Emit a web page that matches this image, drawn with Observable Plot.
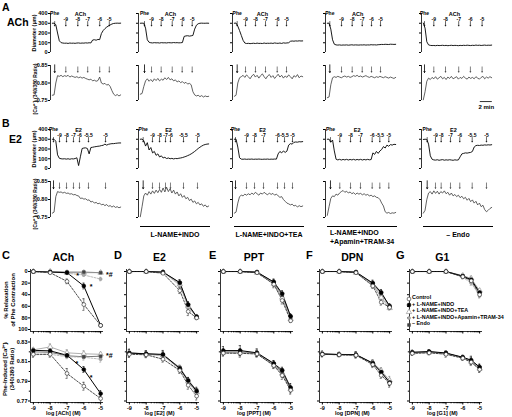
<!DOCTYPE html>
<html><head><meta charset="utf-8">
<script src="https://cdn.jsdelivr.net/npm/d3@7"></script>
<script src="https://cdn.jsdelivr.net/npm/@observablehq/plot@0.6"></script>
<style>
html,body{margin:0;padding:0;background:#fff;}
#root{position:relative;width:512px;height:417px;overflow:hidden;font-family:"Liberation Sans",Arial,Helvetica,sans-serif;font-weight:bold;color:#000;}
#root svg{position:absolute;overflow:visible;}
.lbl{position:absolute;white-space:nowrap;line-height:1;font-weight:bold;color:#000;}
</style></head><body><div id="root"></div>
<script>
// ---------------- DATA ----------------
const achDoseLabels = ["-9","-8","-7","-6","-5"];
const e2DoseLabels = ["-9","-8","-7","-6","-5.5","-5"];
const traceAgents = ["ACh","E2"];
// times (min) of additions for each column
const pheTimesA = [0.4,0.7,0.48,0.42,0.2];
const achTimes = [[2.25,4.25,5.9,7.9,9.5],[1.87,3.48,5.32,6.98,8.65],[1.87,3.53,5.2,7.15,8.7],[2.37,4.15,5.82,7.37,8.87],[1.75,3.7,5.9,7.85,9.8]];
const achLabelTimes = [4.7,5.03,4.7,5.08,5.2];
const pheTimesB = [0.2,0.48,0.2,0.53,0.65];
const e2Times = [[1.2,2.37,3.53,4.53,6.03,8.87],[2.03,3.2,4.2,5.03,7.2,9.53],[2.03,3.37,4.87,7.2,8.37,9.7],[2.08,3.87,5.53,7.48,8.75,10.25],[2.03,2.98,4.53,6.08,8.15,10.53]];
const e2LabelTimes = [4.37,4.7,4.7,4.98,5.03];
const conditionLabels = ["", "L-NAME+INDO", "L-NAME+INDO+TEA", "L-NAME+INDO\n+Apamin+TRAM-34", "– Endo"];

// A: ACh traces (diameter µm, [Ca2+]i ratio)
const A1d = [300,301,285,200,120,101,97,95,96,93,97,95,96,94,97,98,95,97,96,99,97,100,98,128,131,126,134,132,195,225,245,260,272,283,292,298,300,301,300,301];
const A1c = [0.765,0.766,0.80,0.821,0.819,0.822,0.818,0.821,0.819,0.822,0.817,0.82,0.818,0.816,0.818,0.815,0.817,0.814,0.816,0.813,0.811,0.809,0.811,0.806,0.808,0.805,0.807,0.817,0.80,0.797,0.799,0.794,0.796,0.79,0.778,0.768,0.764,0.767,0.763,0.766];
const A2d = [300,301,300,250,130,105,100,98,101,99,100,97,101,99,100,98,101,100,99,102,100,101,99,100,102,165,170,172,168,171,175,240,280,295,300,301,300,300,301,300];
const A2c = [0.768,0.77,0.79,0.806,0.812,0.805,0.81,0.804,0.812,0.807,0.813,0.806,0.811,0.808,0.815,0.81,0.816,0.809,0.812,0.806,0.809,0.803,0.806,0.801,0.804,0.799,0.802,0.797,0.799,0.795,0.775,0.766,0.763,0.765,0.761,0.764,0.76,0.763,0.761,0.762];
const A3d = [300,302,270,225,175,125,97,92,94,91,93,95,92,96,93,94,92,97,93,95,94,96,93,98,95,94,97,93,99,96,98,100,115,118,116,119,117,120,118,119];
const A3c = [0.762,0.765,0.8,0.815,0.818,0.822,0.816,0.823,0.818,0.812,0.82,0.825,0.817,0.822,0.814,0.821,0.826,0.818,0.812,0.82,0.824,0.816,0.821,0.813,0.819,0.825,0.817,0.822,0.814,0.82,0.816,0.823,0.818,0.812,0.821,0.817,0.824,0.815,0.82,0.818];
const A4d = [300,301,240,130,85,78,76,78,75,77,76,78,75,77,79,76,78,77,76,78,77,79,76,78,77,80,78,79,77,80,81,83,82,84,83,82,85,84,83,84];
const A4c = [0.758,0.76,0.795,0.815,0.818,0.816,0.819,0.817,0.815,0.818,0.82,0.817,0.819,0.816,0.818,0.821,0.819,0.822,0.818,0.82,0.817,0.819,0.821,0.818,0.816,0.819,0.817,0.815,0.818,0.816,0.819,0.817,0.815,0.818,0.816,0.814,0.817,0.815,0.813,0.816];
const A5d = [302,250,110,78,73,71,72,70,73,71,72,74,71,73,70,72,74,71,73,72,70,73,71,74,72,75,73,71,74,72,76,73,75,72,74,76,73,75,74,76];
const A5c = [0.752,0.775,0.805,0.814,0.81,0.816,0.812,0.818,0.811,0.815,0.819,0.812,0.816,0.81,0.817,0.813,0.819,0.812,0.815,0.818,0.811,0.816,0.813,0.819,0.814,0.811,0.817,0.813,0.816,0.812,0.818,0.814,0.811,0.816,0.819,0.812,0.817,0.814,0.818,0.815];
// B: E2 traces
const B1d = [300,300,280,140,105,100,98,100,96,100,95,100,98,102,110,30,120,205,210,212,205,150,215,218,222,225,228,230,235,238,250,240,248,252,255,255,258,260,262,262];
const B1c = [0.762,0.765,0.808,0.822,0.82,0.821,0.818,0.82,0.817,0.818,0.815,0.816,0.813,0.814,0.811,0.81,0.803,0.804,0.801,0.802,0.798,0.799,0.793,0.795,0.79,0.792,0.788,0.79,0.785,0.787,0.783,0.786,0.781,0.783,0.779,0.782,0.778,0.78,0.777,0.779];
const B2d = [300,302,285,230,265,190,215,160,175,135,150,118,130,108,115,102,108,100,104,98,103,101,105,108,112,118,124,132,140,150,162,175,190,205,218,230,240,246,250,252];
const B2c = [0.752,0.78,0.81,0.818,0.812,0.822,0.815,0.824,0.817,0.826,0.819,0.828,0.82,0.832,0.821,0.834,0.822,0.83,0.818,0.826,0.815,0.821,0.81,0.816,0.806,0.811,0.802,0.806,0.797,0.801,0.792,0.796,0.788,0.792,0.785,0.788,0.781,0.785,0.779,0.782];
const B3d = [300,301,220,110,96,95,97,94,96,95,97,94,96,95,97,95,94,96,95,97,94,96,95,97,96,150,175,160,180,165,178,240,255,250,268,272,270,275,273,276];
const B3c = [0.762,0.765,0.79,0.808,0.812,0.81,0.815,0.812,0.816,0.813,0.818,0.814,0.82,0.816,0.812,0.818,0.815,0.82,0.816,0.813,0.818,0.814,0.817,0.812,0.815,0.81,0.806,0.808,0.8,0.795,0.79,0.788,0.785,0.787,0.782,0.784,0.779,0.783,0.78,0.782];
const B4d = [300,301,270,292,180,95,88,94,87,93,88,94,87,93,88,94,87,93,88,94,87,93,88,94,89,92,160,145,175,155,180,195,225,210,240,228,245,240,248,246];
const B4c = [0.756,0.78,0.803,0.81,0.808,0.815,0.812,0.818,0.822,0.825,0.82,0.823,0.818,0.821,0.816,0.819,0.814,0.818,0.815,0.817,0.813,0.816,0.812,0.814,0.81,0.812,0.808,0.81,0.806,0.805,0.8,0.79,0.782,0.766,0.762,0.764,0.761,0.763,0.762,0.764];
const B5d = [298,300,299,250,130,95,88,86,90,84,88,91,85,89,86,90,87,84,89,86,88,120,150,155,160,158,162,165,175,220,235,238,236,240,238,242,240,243,241,244];
const B5c = [0.762,0.77,0.8,0.818,0.822,0.815,0.824,0.817,0.823,0.815,0.822,0.818,0.824,0.816,0.82,0.812,0.818,0.81,0.814,0.808,0.812,0.805,0.809,0.802,0.806,0.798,0.803,0.794,0.799,0.79,0.795,0.785,0.79,0.78,0.784,0.772,0.766,0.77,0.775,0.778];

const diamTicks = [0,100,200,300,400];
const caTicks = [0.75,0.80,0.85];
const scaleBarMinutes = 2;

// C–G: concentration–response
const seriesNames = ["Control","+ L-NAME+INDO","+ L-NAME+INDO+TEA","+ L-NAME+INDO+Apamin+TRAM-34","– Endo"];
const drAgents = ["ACh","E2","PPT","DPN","G1"];
const drLetters = ["C","D","E","F","G"];
const achDoses = [-9,-8,-7,-6,-5];
const estDoses = [-9,-8,-7,-6,-5.5,-5];
const doseTicks = [-9,-8,-7,-6,-5];
const relaxTicks = [0,20,40,60,80,100];
const ratioTicks = [0.77,0.79,0.81,0.83];
const ratioMinor = [0.78,0.80,0.82];

const achRelax = [[0,2,17,57,93],[0,1,2,25,93],[0,0,2,2,2],[0,0,3,6,13],[0,0,1,1,2]];
const achRelaxErr = [[0,1,4,10,2],[0,1,1,5,2],[0,0,1,1,1],[0,0,1,2,3],[0,0,1,1,1]];
const achCa = [[0.8175,0.8175,0.798,0.785,0.7725],[0.8215,0.821,0.8165,0.802,0.7775],[0.822,0.825,0.819,0.818,0.8175],[0.817,0.8175,0.815,0.8145,0.8125],[0.82,0.8195,0.816,0.815,0.8155]];
const achCaErr = [[0.003,0.003,0.005,0.004,0.004],[0.002,0.002,0.002,0.003,0.003],[0.002,0.003,0.003,0.003,0.002],[0.002,0.002,0.002,0.003,0.003],[0.002,0.002,0.002,0.002,0.002]];
const e2Relax = [[0,0,3,33,69,80],[0,0,1,19,57,78],[0,0,1,22,60,79],[0,0,1,24,62,77],[0,0,1,20,58,78]];
const e2RelaxErr = [[0,0,1,5,7,3],[0,0,1,5,5,3],[0,0,1,4,5,3],[0,0,1,4,5,3],[0,0,1,4,5,3]];
const e2Ca = [[0.8175,0.817,0.8125,0.801,0.786,0.775],[0.8187,0.818,0.8174,0.803,0.7907,0.780],[0.819,0.8175,0.8165,0.8035,0.79,0.779],[0.818,0.8175,0.816,0.802,0.789,0.778],[0.819,0.818,0.817,0.804,0.791,0.781]];
const e2CaErr = [[0.003,0.003,0.003,0.003,0.004,0.004],[0.004,0.003,0.004,0.002,0.003,0.003],[0.003,0.003,0.003,0.003,0.003,0.004],[0.002,0.002,0.003,0.003,0.003,0.003],[0.003,0.003,0.003,0.002,0.003,0.003]];
const pptRelax = [[0,0,2,22,50,85],[0,0,1,18,38,77],[0,0,2,21,45,82],[0,0,2,20,47,84],[0,0,1,19,41,79]];
const pptRelaxErr = [[0,0,1,6,6,3],[0,0,1,5,5,4],[0,0,1,5,5,3],[0,0,1,5,5,3],[0,0,1,5,5,3]];
const pptCa = [[0.8187,0.8185,0.8178,0.806,0.796,0.781],[0.8213,0.8213,0.819,0.8082,0.8013,0.7837],[0.8195,0.8195,0.8185,0.807,0.798,0.782],[0.8187,0.8185,0.818,0.806,0.797,0.781],[0.82,0.82,0.8185,0.8075,0.7995,0.7825]];
const pptCaErr = [[0.003,0.004,0.003,0.003,0.004,0.004],[0.004,0.005,0.004,0.003,0.003,0.004],[0.003,0.003,0.003,0.003,0.004,0.003],[0.003,0.003,0.003,0.003,0.003,0.003],[0.003,0.003,0.003,0.003,0.003,0.003]];
const dpnRelax = [[0,0,2,25,53,62],[0,0,1,20,36,60],[0,0,2,23,45,63],[0,0,2,22,42,61],[0,0,1,21,38,59]];
const dpnRelaxErr = [[0,0,1,4,5,4],[0,0,1,5,5,4],[0,0,1,4,5,3],[0,0,1,4,5,3],[0,0,1,4,4,3]];
const dpnCa = [[0.8175,0.817,0.8165,0.807,0.796,0.788],[0.8178,0.8172,0.8172,0.8085,0.7995,0.789],[0.818,0.8175,0.817,0.8088,0.801,0.791],[0.8175,0.817,0.8168,0.808,0.798,0.789],[0.818,0.8172,0.817,0.8082,0.799,0.7885]];
const dpnCaErr = [[0.002,0.002,0.003,0.003,0.003,0.004],[0.003,0.002,0.003,0.003,0.003,0.003],[0.002,0.002,0.002,0.003,0.003,0.004],[0.002,0.002,0.002,0.003,0.003,0.003],[0.002,0.002,0.002,0.003,0.003,0.003]];
const g1Relax = [[0,0,0,9,16,40],[0,0,0,8,14,36],[0,0,0,7,12,33],[0,0,0,10,20,42],[0,0,0,8,15,38]];
const g1RelaxErr = [[0,0,1,3,4,4],[0,0,1,3,4,4],[0,0,1,3,4,3],[0,0,1,3,4,4],[0,0,1,3,3,3]];
const g1Ca = [[0.8185,0.819,0.8175,0.8135,0.8095,0.802],[0.8195,0.8203,0.8188,0.8145,0.8115,0.8045],[0.819,0.8195,0.8185,0.814,0.81,0.803],[0.8185,0.819,0.818,0.8135,0.809,0.8025],[0.8195,0.82,0.8185,0.8142,0.811,0.804]];
const g1CaErr = [[0.002,0.002,0.003,0.002,0.003,0.003],[0.002,0.002,0.002,0.002,0.004,0.003],[0.002,0.002,0.002,0.002,0.003,0.003],[0.002,0.002,0.002,0.002,0.003,0.003],[0.002,0.002,0.002,0.002,0.003,0.003]];
// significance marks (ACh only)
const achRelaxNotes = [{x:-6.45,y:7,t:"*"},{x:-5.65,y:26,t:"*"},{x:-4.68,y:5,t:"*#"}];
const achCaNotes = [{x:-6.5,y:0.8075,t:"*"},{x:-5.65,y:0.7935,t:"*"},{x:-4.68,y:0.8165,t:"*#"}];

// ---------------- DRAWING ----------------
const FONT = '"Liberation Sans", Arial, Helvetica, sans-serif';
const root = document.getElementById("root");
const baseStyle = {fontFamily: FONT, fontWeight: "bold", background: "transparent", overflow: "visible", color: "#000"};

function addSvg(svg, left, top) {
  svg.style.left = left + "px"; svg.style.top = top + "px"; svg.style.overflow = "visible";
  root.appendChild(svg);
}
function addText(text, x, y, size, opt = {}) {
  const d = document.createElement("div");
  d.className = "lbl"; d.textContent = text;
  d.style.left = x + "px"; d.style.top = y + "px"; d.style.fontSize = size + "px";
  const tf = [];
  if (opt.center) tf.push("translate(-50%,-50%)");
  if (opt.rotate) tf.push("rotate(-90deg)");
  if (tf.length) d.style.transform = tf.join(" ");
  root.appendChild(d);
  return d;
}

// trace panels
const TRACE_SPAN = 11.4, TRACE_DOMAIN = [-0.3, 11.7], TRACE_W = 72;
const traceCols = [50, 138, 232, 325, 421];
const toSeries = vals => vals.map((v, i) => ({t: i * TRACE_SPAN / (vals.length - 1), v}));

function diamPanel({left, top, bottom, values, pheT, doseT, doseLabels, agent, agentT, showLabels}) {
  const svg = Plot.plot({
    width: TRACE_W, height: bottom - top, margin: 0,
    x: {domain: TRACE_DOMAIN, axis: null},
    y: {domain: [0, 400], label: null},
    style: baseStyle,
    marks: [
      Plot.ruleX([TRACE_DOMAIN[0]], {stroke: "#000", strokeWidth: 0.8}),
      Plot.axisY({ticks: diamTicks, tickSize: 2, tickPadding: 1, fontSize: 5.5, label: null,
                  tickFormat: showLabels ? (d => String(d)) : (() => "")}),
      Plot.line(toSeries(values), {x: "t", y: "v", stroke: "#000", strokeWidth: 0.9}),
      Plot.text([pheT], {x: d => d, y: () => 406, text: () => "Phe", fontSize: 5, fill: "#000"}),
      Plot.text([agentT], {x: d => d, y: () => 390, text: () => agent, fontSize: 5.5, fill: "#000"}),
      Plot.text(doseT, {x: d => d, y: () => 342, text: (d, i) => doseLabels[i], fontSize: 5, fill: "#000"}),
      Plot.arrow([pheT, ...doseT], {x1: d => d, x2: d => d, y1: () => 318, y2: () => 272,
                  headLength: 2, strokeWidth: 0.6, stroke: "#000"})
    ]
  });
  addSvg(svg, left, top);
}
function caPanel({left, top, bottom, values, pheT, doseT, showLabels, extra = []}) {
  const svg = Plot.plot({
    width: TRACE_W, height: bottom - top, margin: 0,
    x: {domain: TRACE_DOMAIN, axis: null},
    y: {domain: [0.75, 0.85], label: null},
    style: baseStyle,
    marks: [
      Plot.ruleX([TRACE_DOMAIN[0]], {stroke: "#000", strokeWidth: 0.8}),
      Plot.axisY({ticks: caTicks, tickSize: 2, tickPadding: 1, fontSize: 5.5, label: null,
                  tickFormat: showLabels ? d3.format(".2f") : (() => "")}),
      Plot.line(toSeries(values), {x: "t", y: "v", stroke: "#3a3a3a", strokeWidth: 0.8}),
      Plot.arrow([pheT], {x1: d => d, x2: d => d, y1: () => 0.852, y2: () => 0.830, headLength: 2.2, strokeWidth: 0.8, stroke: "#000"}),
      Plot.arrow(doseT, {x1: d => d, x2: d => d, y1: () => 0.846, y2: () => 0.831, headLength: 1.8, strokeWidth: 0.5, stroke: "#000"}),
      ...extra
    ]
  });
  addSvg(svg, left, top);
}

const diamA = [A1d, A2d, A3d, A4d, A5d], caA = [A1c, A2c, A3c, A4c, A5c];
const diamB = [B1d, B2d, B3d, B4d, B5d], caB = [B1c, B2c, B3c, B4c, B5c];
const rowA = {dTop: 13, dBottom: 52, cTop: 65, cBottom: 100};
const rowB = {dTop: 129, dBottom: 168, cTop: 181, cBottom: 217};

traceCols.forEach((x, c) => {
  diamPanel({left: x, top: rowA.dTop, bottom: rowA.dBottom, values: diamA[c], pheT: pheTimesA[c],
             doseT: achTimes[c], doseLabels: achDoseLabels, agent: traceAgents[0], agentT: achLabelTimes[c], showLabels: c === 0});
  const extra = c === 4 ? [
    Plot.ruleY([0.747], {x1: 9.5, x2: 9.5 + scaleBarMinutes, stroke: "#000", strokeWidth: 0.8}),
    Plot.text([scaleBarMinutes], {x: d => 9.5 + d / 2, y: () => 0.732, text: d => `${d} min`, fontSize: 6, fill: "#000"})
  ] : [];
  caPanel({left: x, top: rowA.cTop, bottom: rowA.cBottom, values: caA[c], pheT: pheTimesA[c], doseT: achTimes[c], showLabels: c === 0, extra});
  diamPanel({left: x, top: rowB.dTop, bottom: rowB.dBottom, values: diamB[c], pheT: pheTimesB[c],
             doseT: e2Times[c], doseLabels: e2DoseLabels, agent: traceAgents[1], agentT: e2LabelTimes[c], showLabels: c === 0});
  caPanel({left: x, top: rowB.cTop, bottom: rowB.cBottom, values: caB[c], pheT: pheTimesB[c], doseT: e2Times[c], showLabels: c === 0});
});

// section labels A/B
addText("A", 2, 2, 10.5);
addText("ACh", 7, 17, 10.5);
addText("B", 2, 118, 10.5);
addText("E2", 9, 134, 10.5);
addText("Diameter (μm)", 35, 32.5, 5.5, {center: true, rotate: true});
addText("[Ca²⁺]ᵢ (340/380 Ratio)", 35, 89, 5, {center: true, rotate: true});
addText("Diameter (μm)", 35, 148.5, 5.5, {center: true, rotate: true});
addText("[Ca²⁺]ᵢ (340/380 Ratio)", 35, 204, 5, {center: true, rotate: true});

// condition bars under B
traceCols.forEach((x, c) => {
  if (!conditionLabels[c]) return;
  const bar = document.createElement("div");
  bar.style.cssText = `position:absolute;left:${x + 2}px;top:226px;width:${TRACE_W - 2}px;height:0;border-top:1px solid #000;`;
  root.appendChild(bar);
  const lines = conditionLabels[c].split("\n");
  if (lines.length > 1) {
    lines.forEach((ln, k) => addText(ln, x + 5, 229 + k * 8.5, 7));
  } else {
    addText(lines[0], x + 37, 233.5, 7, {center: true});
  }
});

// concentration–response panels
const DR_DOMAIN = [-9.17, -4.83], DR_W = 73;
const drLeft = [29.8, 126, 220.4, 318.8, 408.8];
const minorDoseTicks = d3.range(-9, -5).flatMap(d => d3.range(2, 10).map(k => d + Math.log10(k)));
const seriesStyle = [
  {stroke: "#222", dash: "2,1.4", lw: 0.8, symbol: "circle", fill: "#fff", dot: "#222", r: 1.9},
  {stroke: "#000", dash: null, lw: 1.0, symbol: "circle", fill: "#000", dot: "#000", r: 1.9},
  {stroke: "#9a9a9a", dash: null, lw: 0.8, symbol: "triangle", fill: "#fff", dot: "#888", r: 2.0},
  {stroke: "#aaa", dash: "2,1.4", lw: 0.8, symbol: "circle", fill: "#aaa", dot: "#999", r: 1.5},
  {stroke: "#555", dash: null, lw: 0.8, symbol: "square", fill: "#444", dot: "#444", r: 1.6}
];
const lineOrder = [4, 3, 2, 1, 0], dotOrder = [3, 2, 4, 1, 0];
const CAP = 0.06;

function drPanel({left, top, height, yDomain, reverse, yTicks, yMinor, yFmt, showY, showX, doses, vals, errs, notes}) {
  const rows = vals.map((arr, s) => arr.map((y, i) => ({x: doses[i], y, e: errs[s][i], s})));
  const marks = [
    Plot.ruleX([DR_DOMAIN[0]], {stroke: "#000", strokeWidth: 0.8}),
    Plot.ruleY([reverse ? yDomain[1] : yDomain[0]], {stroke: "#000", strokeWidth: 0.8}),
    Plot.axisX({ticks: doseTicks, tickSize: 2.5, tickPadding: 1.5, fontSize: 5.5, label: null,
                tickFormat: showX ? (d => String(d)) : (() => "")}),
    Plot.axisX({ticks: minorDoseTicks, tickSize: 1.3, tickFormat: () => "", label: null}),
    Plot.axisY({ticks: yTicks, tickSize: 2, tickPadding: 1, fontSize: 5.5, label: null,
                tickFormat: showY ? yFmt : (() => "")})
  ];
  if (yMinor) marks.push(Plot.axisY({ticks: yMinor, tickSize: 1.2, tickFormat: () => "", label: null}));
  for (const s of lineOrder) {
    const st = seriesStyle[s];
    marks.push(Plot.line(rows[s], {x: "x", y: "y", stroke: st.stroke, strokeWidth: st.lw, strokeDasharray: st.dash || undefined}));
  }
  for (const s of lineOrder) {
    const st = seriesStyle[s];
    const eb = rows[s].filter(d => d.e > 0);
    marks.push(
      Plot.ruleX(eb, {x: "x", y1: d => d.y - d.e, y2: d => d.y + d.e, stroke: st.dot, strokeWidth: 0.6}),
      Plot.ruleY(eb, {y: d => d.y + d.e, x1: d => d.x - CAP, x2: d => d.x + CAP, stroke: st.dot, strokeWidth: 0.6}),
      Plot.ruleY(eb, {y: d => d.y - d.e, x1: d => d.x - CAP, x2: d => d.x + CAP, stroke: st.dot, strokeWidth: 0.6})
    );
  }
  for (const s of dotOrder) {
    const st = seriesStyle[s];
    marks.push(Plot.dot(rows[s], {x: "x", y: "y", symbol: st.symbol, r: st.r, fill: st.fill, stroke: st.dot, strokeWidth: 0.6}));
  }
  if (notes) marks.push(Plot.text(notes, {x: "x", y: "y", text: "t", fontSize: 7, textAnchor: "start", fill: "#000"}));
  const svg = Plot.plot({
    width: DR_W, height, margin: 0,
    x: {domain: DR_DOMAIN, label: null},
    y: {domain: yDomain, reverse, label: null},
    style: baseStyle,
    marks
  });
  addSvg(svg, left, top);
}

const drRelax = [achRelax, e2Relax, pptRelax, dpnRelax, g1Relax];
const drRelaxErr = [achRelaxErr, e2RelaxErr, pptRelaxErr, dpnRelaxErr, g1RelaxErr];
const drCa = [achCa, e2Ca, pptCa, dpnCa, g1Ca];
const drCaErr = [achCaErr, e2CaErr, pptCaErr, dpnCaErr, g1CaErr];
const drDoses = [achDoses, estDoses, estDoses, estDoses, estDoses];
const letterX = [2, 114, 209, 306, 396];

drLeft.forEach((left, p) => {
  drPanel({left, top: 269, height: 62, yDomain: [-3.5, 103.5], reverse: true, yTicks: relaxTicks,
           yFmt: d => String(d), showY: p === 0, showX: false, doses: drDoses[p], vals: drRelax[p], errs: drRelaxErr[p],
           notes: p === 0 ? achRelaxNotes : null});
  drPanel({left, top: 338, height: 64, yDomain: [0.76847, 0.83356], reverse: false, yTicks: ratioTicks, yMinor: ratioMinor,
           yFmt: d3.format(".2f"), showY: p === 0, showX: true, doses: drDoses[p], vals: drCa[p], errs: drCaErr[p],
           notes: p === 0 ? achCaNotes : null});
  const cx = left + DR_W / 2 - 3;
  addText(drLetters[p], letterX[p], 250, 11);
  addText(drAgents[p], cx, 256.5, 10.5, {center: true});
  addText(`log [${drAgents[p]}] (M)`, cx, 414, 5.5, {center: true});
});

addText("% Relaxation", 6, 300, 6, {center: true, rotate: true});
addText("of Phe Contraction", 12.5, 300, 6, {center: true, rotate: true});
addText("Phe-Induced [Ca²⁺]ᵢ", 4.5, 369, 6, {center: true, rotate: true});
addText("(340/380 Ratio)", 11.5, 369, 6, {center: true, rotate: true});

// legend (inside G relaxation panel)
const legendY = [298, 304.5, 311, 317.5, 324];
seriesNames.forEach((name, s) => {
  const st = seriesStyle[s];
  const sym = Plot.plot({
    width: 5, height: 5, margin: 0, x: {domain: [0, 1], axis: null}, y: {domain: [0, 1], axis: null},
    style: baseStyle,
    marks: [Plot.dot([0.5], {x: d => d, y: d => d, symbol: st.symbol, r: st.r, fill: st.fill, stroke: st.dot, strokeWidth: 0.6})]
  });
  addSvg(sym, 406, legendY[s] - 2.5);
  addText(name, 412, legendY[s] - 2.8, 5.4);
});
</script></body></html>
